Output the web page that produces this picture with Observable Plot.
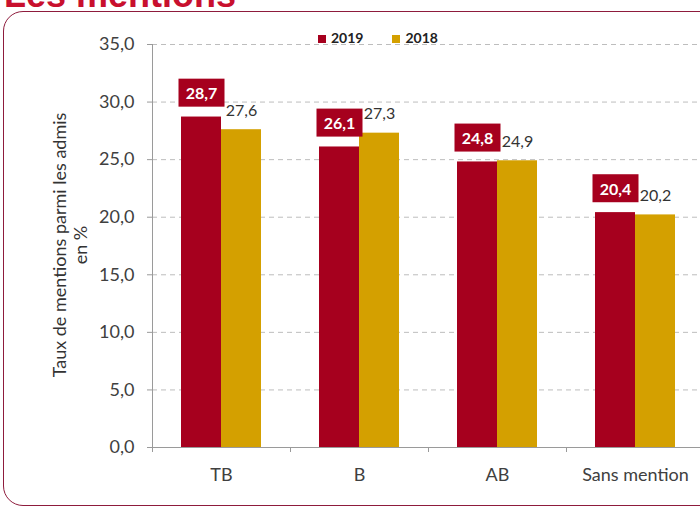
<!DOCTYPE html>
<html>
<head>
<meta charset="utf-8">
<script src="https://cdn.jsdelivr.net/npm/d3@7"></script>
<script src="https://cdn.jsdelivr.net/npm/@observablehq/plot@0.6"></script>
<style>
  body { margin: 0; background: #fff; font-family: Lato, "Open Sans", sans-serif; }
  #wrap { position: relative; width: 700px; height: 511px; overflow: hidden; background: #fff; }
  #title { position: absolute; left: 4px; top: -26px; font: bold 36px "Liberation Sans", Arial, sans-serif; color: #c8102e; white-space: nowrap; line-height: normal; }
  #border { position: absolute; left: 3px; top: 11px; width: 730px; height: 493px; border: 1.5px solid #8e1b3c; border-radius: 20px; }
  #chart { position: absolute; left: 0; top: 0; }
  #legend { position: absolute; top: 29px; left: 318px; font: bold 14px Lato, sans-serif; color: #222; display: flex; gap: 29px; }
  #legend span.sw { display: inline-block; width: 8px; height: 8px; margin-right: 5px; vertical-align: 0px; }
  #ylab { position: absolute; left: 70px; top: 245px; transform: translate(-50%, -50%) rotate(-90deg); font: 18px Lato, sans-serif; color: #333; text-align: center; line-height: 21px; white-space: nowrap; }
</style>
</head>
<body>
<div id="wrap">
  <div id="title">Les mentions</div>
  <div id="border"></div>
  <div id="chart"></div>
  <div id="legend"></div>
  <div id="ylab">Taux de mentions parmi les admis<br>en %</div>
</div>
<script>
const categories = ["TB", "B", "AB", "Sans mention"];
const years = ["2019", "2018"];
const values2019 = [28.7, 26.1, 24.8, 20.4];
const values2018 = [27.6, 27.3, 24.9, 20.2];
const yTicks = [0, 5, 10, 15, 20, 25, 30, 35];
const colors = { "2019": "#a6001e", "2018": "#d4a000" };

const rows2019 = categories.map((c, i) => ({ cat: c, year: "2019", value: values2019[i] }));
const rows2018 = categories.map((c, i) => ({ cat: c, year: "2018", value: values2018[i] }));
const fmt = d => d.toFixed(1).replace(".", ",");

const plot = Plot.plot({
  width: 700,
  height: 511,
  marginLeft: 152,
  marginRight: -4,
  marginTop: 44,
  marginBottom: 64,
  style: { fontFamily: "Lato, sans-serif", background: "transparent", overflow: "visible" },
  x: { domain: categories, padding: 0, label: null },
  y: { domain: [0, 35], nice: false, label: null },
  marks: [
    Plot.ruleY(yTicks.filter(t => t > 0), { stroke: "#bdbdbd", strokeDasharray: "5,4" }),
    Plot.barY(rows2019, { x: "cat", y: "value", fill: colors["2019"], insetLeft: 29, insetRight: 69 }),
    Plot.barY(rows2018, { x: "cat", y: "value", fill: colors["2018"], insetLeft: 69, insetRight: 29 }),
    Plot.frame({ anchor: "left", stroke: "#9a9a9a" }),
    Plot.ruleY([0], { stroke: "#9a9a9a" }),
    Plot.axisY({ ticks: yTicks, tickFormat: fmt, tickSize: 5, tickPadding: 13, fontSize: 18, stroke: "#9a9a9a", fill: "#404040", label: null }),
    Plot.axisX({ tickSize: 0, tickPadding: 21, fontSize: 18, fill: "#404040", label: null }),
    Plot.axisX({ tickSize: 5, tickFormat: () => "", dx: -69, stroke: "#9a9a9a", label: null }),
    Plot.text(rows2018, { x: "cat", y: "value", text: d => fmt(d.value), dx: 20, dy: -19, fontSize: 16, fill: "#333" }),
    Plot.text(rows2019, { x: "cat", y: "value", text: d => fmt(d.value), dx: -20, dy: -23, fontSize: 16, fontWeight: "bold", fill: "#ffffff", ariaDescription: "lbl2019" })
  ]
});
document.getElementById("chart").appendChild(plot);

// red boxes behind 2019 labels
const ns = "http://www.w3.org/2000/svg";
let labels = plot.querySelectorAll('g[aria-description="lbl2019"] text');
if (!labels.length) labels = plot.querySelectorAll('g[fill="#ffffff"] text');
labels.forEach(t => {
  const b = t.getBBox();
  const r = document.createElementNS(ns, "rect");
  const w = 46, h = 28;
  r.setAttribute("x", b.x + b.width / 2 - w / 2);
  r.setAttribute("y", b.y + b.height / 2 - h / 2);
  r.setAttribute("width", w);
  r.setAttribute("height", h);
  r.setAttribute("fill", colors["2019"]);
  if (t.getAttribute("transform")) r.setAttribute("transform", t.getAttribute("transform"));
  t.parentNode.insertBefore(r, t);
});

const legend = document.getElementById("legend");
years.forEach(y => {
  const item = document.createElement("div");
  item.innerHTML = `<span class="sw" style="background:${colors[y]}"></span>${y}`;
  legend.appendChild(item);
});
</script>
</body>
</html>
